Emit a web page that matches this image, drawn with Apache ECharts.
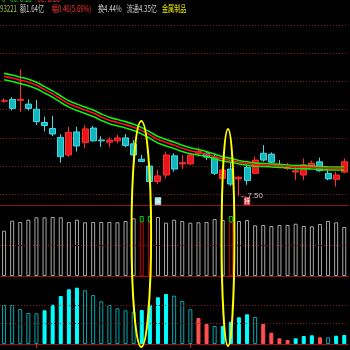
<!DOCTYPE html>
<html><head><meta charset="utf-8">
<script src="https://cdn.jsdelivr.net/npm/echarts@6/dist/echarts.min.js"></script>
<style>html,body{margin:0;padding:0;background:#000;}#c{width:350px;height:350px;}</style>
</head><body><div id="c"></div>
<script>
// ---- data ----
const categories = ['1','2','3','4','5','6','7','8','9','10','11','12','13','14','15','16','17','18','19','20','21','22','23','24','25','26','27','28','29','30','31','32','33','34','35','36','37','38','39','40','41','42','43'];
// [open, close, low, high]
const candles = [
[9.72,9.73,9.68,9.79],[9.76,9.55,9.50,9.81],[9.74,9.76,9.47,10.46],[9.65,9.55,9.50,9.76],
[9.53,9.24,9.16,9.75],[9.22,9.15,9.01,9.36],[9.08,8.95,8.90,9.37],[8.87,8.42,8.28,8.95],
[8.46,8.99,8.42,9.12],[9.00,8.67,8.54,9.12],[8.75,9.07,8.62,9.16],[9.09,8.79,8.77,9.14],
[8.81,8.79,8.65,8.90],[8.76,8.81,8.64,8.87],[8.79,8.86,8.73,8.93],[8.86,8.68,8.64,8.95],
[8.72,8.46,8.41,8.81],[8.36,8.31,8.30,8.46],[8.20,7.84,7.81,8.27],[7.84,7.97,7.78,8.11],
[7.99,8.46,7.91,8.54],[8.44,8.13,8.07,8.50],[8.25,8.28,8.13,8.46],[8.25,8.46,8.23,8.51],
[8.50,8.54,8.42,8.64],[8.50,8.41,8.34,8.54],[8.41,8.03,7.99,8.46],[7.91,8.11,7.87,8.19],
[8.13,7.78,7.73,8.30],[7.90,7.94,7.50,7.96],[8.17,7.86,7.76,8.25],[8.03,8.34,8.01,8.42],
[8.50,8.34,8.30,8.69],[8.48,8.29,8.26,8.52],[8.23,8.20,8.19,8.34],[8.14,8.17,8.11,8.27],
[8.06,8.09,7.87,8.20],[7.99,8.23,7.87,8.38],[8.19,8.27,8.18,8.33],[8.30,8.09,8.07,8.40],
[8.03,7.90,7.87,8.15],[7.89,7.99,7.72,8.07],[8.06,8.30,8.03,8.38]
];
const maUpper = [10.37,10.33,10.28,10.23,10.16,10.06,9.96,9.84,9.73,9.65,9.58,9.51,9.42,9.34,9.29,9.24,9.18,9.10,9.00,8.89,8.82,8.76,8.69,8.63,8.59,8.54,8.48,8.42,8.38,8.33,8.30,8.27,8.26,8.25,8.24,8.23,8.21,8.21,8.20,8.19,8.18,8.18,8.18];
const maMid = [10.30,10.26,10.21,10.16,10.09,9.99,9.89,9.77,9.66,9.58,9.51,9.44,9.35,9.27,9.22,9.17,9.11,9.03,8.93,8.82,8.75,8.69,8.62,8.56,8.52,8.48,8.42,8.37,8.33,8.29,8.26,8.235,8.225,8.215,8.205,8.195,8.18,8.18,8.17,8.16,8.15,8.15,8.15];
const maLow = [10.22,10.18,10.13,10.08,10.01,9.91,9.81,9.69,9.58,9.50,9.43,9.36,9.27,9.19,9.14,9.09,9.03,8.95,8.85,8.74,8.67,8.61,8.54,8.49,8.46,8.42,8.37,8.32,8.29,8.25,8.22,8.195,8.19,8.18,8.17,8.16,8.14,8.14,8.13,8.12,8.11,8.11,8.11];
const vol = [45.3,55.3,54,56.3,58.7,58.7,59,58.7,54,56.3,53.7,54,54,54,53.7,55,57.7,53.7,53.7,59,53.3,56.3,55,53.3,53.7,54,57,56,53.7,55,56,50.7,51,50,51,51,52.3,50,49.7,52,55,53.7,49];
const volCap = ['-','-','-','-','-','-','-','-','-','-','-','-','-','-','-','-','-',6.3,6.3,'-','-','-','-','-','-','-','-','-',6.3,'-','-','-','-','-','-','-','-','-','-','-','-','-','-'];
const volKind = ['g','g','g','g','g','g','g','g','g','g','g','g','g','g','g','g','g','r','r','g','g','g','g','g','g','g','g','g','r','g','g','g','g','g','g','g','g','g','g','g','g','g','g'];
const macd = [39,39,35,31,30.7,33.7,39.3,48,54.7,56.3,53.7,49,42.7,39,35.7,33.7,32.3,34,39.3,46.7,50,48.3,43,34.7,26,20,18,18,22.3,26.7,29.7,27,20,11.3,5.7,4,5.7,8,8.7,6.7,6.7,8.3,9];
const macdKind = ['h','h','h','h','h','c','c','c','c','c','h','h','h','h','h','h','h','c','c','c','c','h','h','h','r','r','h','c','c','c','c','h','r','r','r','r','c','c','c','r','h','c','c'];
const volGuide = [31];
const macdGuides = [39, 20.7];
const monthTicks = [4, 23];
const lowIndex = 29;
const signals = [{idx:19, text:'解', color:'#86cfd2', price:7.38}, {idx:30, text:'持', color:'#d8404c', price:7.38}];

// ---- chart ----
const sep = '#9a1010', dot = '#8a1414';
const L = -6, R = 1.7;
const chart = echarts.init(document.getElementById('c'));
const catAxis = (gi, pos, extra) => Object.assign({
  gridIndex: gi, type: 'category', data: categories, boundaryGap: true, position: pos,
  axisLine: {show: true, lineStyle: {color: sep, width: 1}}, axisTick: {show: false},
  axisLabel: {show: false}, splitLine: {show: false}
}, extra || {});
const markDotted = vals => ({silent: true, symbol: 'none', label: {show: false},
  lineStyle: {color: dot, type: [1, 2], width: 1}, data: vals.map(v => ({yAxis: v}))});

const hdr = (x, y, t, c) => ({type: 'text', x: x, y: y, scaleX: 0.68, z: 200,
  style: {text: t, fill: c, fontSize: 9, fontFamily: '"Noto Sans CJK SC"', verticalAlign: 'top', align: 'left'}});

chart.setOption({
  backgroundColor: '#000',
  animation: false,
  grid: [
    {left: L, right: R, top: 25, height: 197.4},
    {left: L, right: R, top: 205, height: 71},
    {left: L, right: R, top: 276, height: 68}
  ],
  xAxis: [
    catAxis(0, 'bottom', {show: false}),
    catAxis(1, 'bottom'),
    catAxis(1, 'top'),
    catAxis(2, 'bottom', {axisTick: {show: true, alignWithLabel: true, length: 4,
      interval: (i) => monthTicks.indexOf(i) >= 0, lineStyle: {color: '#d02020'}}})
  ],
  yAxis: [
    {gridIndex: 0, type: 'value', min: 6.8822, max: 11.5014, interval: 0.65988,
     axisLine: {show: false}, axisTick: {show: false}, axisLabel: {show: false},
     splitLine: {show: true, showMinLine: false, lineStyle: {color: dot, type: [1, 2]}}},
    {gridIndex: 1, type: 'value', min: 0, max: 71, show: false, splitLine: {show: false}},
    {gridIndex: 2, type: 'value', min: 0, max: 68, show: false, splitLine: {show: false}}
  ],
  series: [
    {type: 'line', xAxisIndex: 0, yAxisIndex: 0, data: maUpper, symbol: 'none', smooth: 0.3,
     lineStyle: {color: '#10f010', width: 1.6}, z: 3},
    {type: 'line', xAxisIndex: 0, yAxisIndex: 0, data: maLow, symbol: 'none', smooth: 0.3,
     lineStyle: {color: '#10f010', width: 1.6}, z: 3},
    {type: 'line', xAxisIndex: 0, yAxisIndex: 0, data: maMid, symbol: 'none', smooth: 0.3,
     lineStyle: {color: '#ff1010', width: 1.6}, z: 4},
    {type: 'candlestick', xAxisIndex: 0, yAxisIndex: 0, data: candles, barWidth: 6.5, z: 2,
     itemStyle: {color: '#e8161b', color0: '#16b4bc', borderColor: '#ff3030', borderColor0: '#40dce4', borderWidth: 1},
     markPoint: {silent: true, data: [
       {coord: [categories[lowIndex], candles[lowIndex][2]], symbol: 'circle', symbolSize: 1,
        itemStyle: {color: 'rgba(0,0,0,0)'},
        label: {show: true, position: 'right', distance: 0, formatter: '\u2190' + candles[lowIndex][2].toFixed(2),
                color: '#c8c8c8', fontSize: 8, fontFamily: 'Liberation Sans'}}
     ].concat(signals.map(s => ({coord: [categories[s.idx], s.price], symbol: 'rect', symbolSize: [6.5, 8],
        itemStyle: {color: s.color},
        label: {show: true, position: 'inside', formatter: s.text, color: '#fff', fontSize: 6,
                fontFamily: '"Noto Sans CJK SC"'}})))}
    },
    {type: 'bar', xAxisIndex: 1, yAxisIndex: 1, stack: 'v', barWidth: 4,
     data: vol.map((v, i) => ({value: v, itemStyle: {borderColor: volKind[i] === 'r' ? '#c80000' : '#a8a8a8'}})),
     itemStyle: {color: 'rgba(0,0,0,0)', borderWidth: 1},
     markLine: markDotted(volGuide)},
    {type: 'bar', xAxisIndex: 1, yAxisIndex: 1, stack: 'v', barWidth: 4, data: volCap,
     itemStyle: {color: 'rgba(0,0,0,0)', borderColor: '#00c800', borderWidth: 1}},
    {type: 'bar', xAxisIndex: 3, yAxisIndex: 2, barWidth: 4,
     data: macd.map((v, i) => {
       const k = macdKind[i];
       const st = k === 'h' ? {color: 'rgba(0,0,0,0)', borderColor: '#00a8b0', borderWidth: 1}
                : k === 'c' ? {color: '#00ffff', borderColor: '#00ffff', borderWidth: 1}
                : {color: '#ff5050', borderColor: '#ff5050', borderWidth: 1};
       return {value: v, itemStyle: st};
     }),
     markLine: markDotted(macdGuides)}
  ],
  graphic: [
    {type: 'ellipse', shape: {cx: 141.3, cy: 234, rx: 9.8, ry: 113}, z: 150,
     style: {fill: 'none', stroke: '#ffff00', lineWidth: 2}},
    {type: 'ellipse', shape: {cx: 228, cy: 237.5, rx: 6.4, ry: 108.5}, z: 150,
     style: {fill: 'none', stroke: '#ffff00', lineWidth: 2}},
    hdr(2, -6, '0', '#20d020'),
    hdr(10, -6, '60: 8.18', '#20d020'),
    hdr(37, -6, 'CC: 8.18', '#ff3030'),
    hdr(0, 4.5, '93221', '#a8c040'),
    hdr(20, 4.5, '额1.64亿', '#d0d0d0'),
    hdr(51.7, 4.5, '幅0.46(5.69%)', '#ff3030'),
    hdr(98, 4.5, '换4.44%', '#d0d0d0'),
    hdr(126.7, 4.5, '流通4.35亿', '#d0d0d0'),
    hdr(162, 4.5, '金属制品', '#e8e800')
  ]
});
</script></body></html>
